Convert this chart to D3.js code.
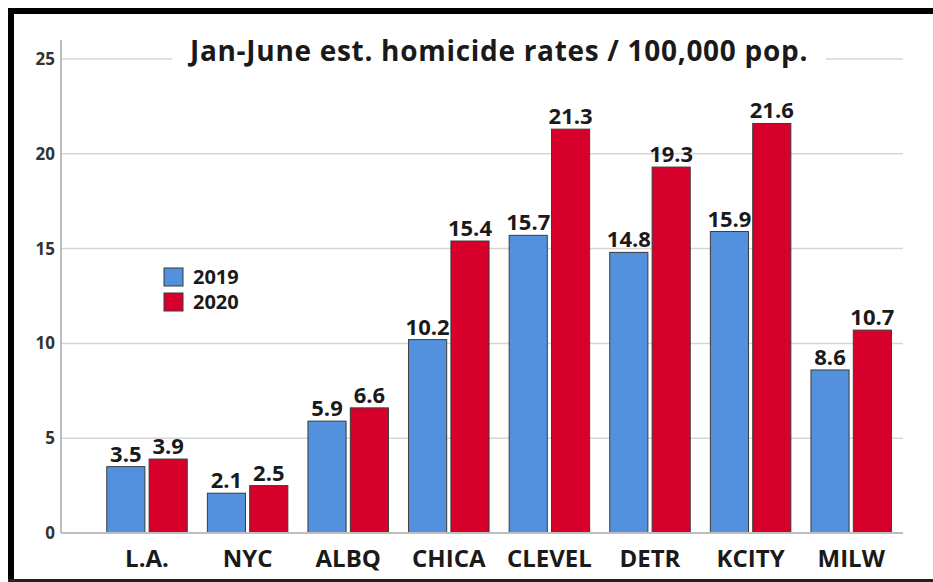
<!DOCTYPE html>
<style type="text/css">
body { margin: 0; background: #fff; }
text { font-family: "Open Sans", sans-serif; font-weight: 700; fill: #1a1a1a; }
</style>
<svg width="933" height="582"></svg>
<script src="https://d3js.org/d3.v7.min.js"></script>
<script>

var cities = ["L.A.", "NYC", "ALBQ", "CHICA", "CLEVEL", "DETR", "KCITY", "MILW"];
var years = ["2019", "2020"];
var rate2019 = [3.5, 2.1, 5.9, 10.2, 15.7, 14.8, 15.9, 8.6];
var rate2020 = [3.9, 2.5, 6.6, 15.4, 21.3, 19.3, 21.6, 10.7];
var yTicks = [0, 5, 10, 15, 20, 25];
var colors = ["#5391df", "#d7002b"];

var svg = d3.select("svg");

// frame of the screenshot
svg.append("rect").attr("x", 0).attr("y", 0).attr("width", 933).attr("height", 582).attr("fill", "#fff");
svg.append("rect").attr("x", 8).attr("y", 8).attr("width", 925).attr("height", 6).attr("fill", "#000");
svg.append("rect").attr("x", 8).attr("y", 8).attr("width", 6).attr("height", 574).attr("fill", "#000");
svg.append("rect").attr("x", 8).attr("y", 579).attr("width", 925).attr("height", 3).attr("fill", "#222");

var x0 = d3.scaleBand()
		.domain(cities)
		.range([96.7, 901.5])
		.paddingInner(0.2)
		.paddingOuter(0.1);

var x1 = d3.scaleBand()
		.domain(years)
		.range([0, x0.bandwidth()])
		.paddingInner(0.1);

var y = d3.scaleLinear()
		.domain([0, 25])
		.range([533, 59]);

// gridlines
svg.append("g")
		.attr("stroke", "#d6d6d6")
		.attr("stroke-width", 1.5)
	.selectAll("line")
	.data(yTicks)
	.enter().append("line")
		.attr("x1", 61)
		.attr("x2", 903)
		.attr("y1", function(d) { return y(d); })
		.attr("y2", function(d) { return y(d); });

// y axis line
svg.append("line")
		.attr("x1", 61).attr("x2", 61)
		.attr("y1", 40).attr("y2", y(0))
		.attr("stroke", "#bdbdbd")
		.attr("stroke-width", 2);

svg.append("g")
	.selectAll("text")
	.data(yTicks)
	.enter().append("text")
		.attr("x", 55)
		.attr("y", function(d) { return y(d); })
		.attr("dy", "0.35em")
		.attr("text-anchor", "end")
		.attr("font-size", 17)
		.style("fill", "#333")
		.text(function(d) { return d; });

// title with white box breaking the top gridline
svg.append("rect")
		.attr("x", 172).attr("y", 35)
		.attr("width", 654).attr("height", 40)
		.attr("fill", "#fff");

svg.append("text")
		.attr("x", 499)
		.attr("y", 61)
		.attr("text-anchor", "middle")
		.attr("font-size", 28)
		.attr("letter-spacing", 0.7)
		.text("Jan-June est. homicide rates / 100,000 pop.");

var rows = cities.map(function(c, i) {
	return { city: c, values: [rate2019[i], rate2020[i]] };
});

var group = svg.append("g")
	.selectAll("g")
	.data(rows)
	.enter().append("g")
		.attr("transform", function(d) { return "translate(" + x0(d.city) + ",0)"; });

var bar = group.selectAll("g")
	.data(function(d) { return d.values.map(function(v, j) { return { year: years[j], value: v, k: j }; }); })
	.enter().append("g");

bar.append("rect")
		.attr("x", function(d) { return x1(d.year); })
		.attr("y", function(d) { return y(d.value); })
		.attr("width", x1.bandwidth())
		.attr("height", function(d) { return y(0) - y(d.value); })
		.attr("fill", function(d) { return colors[d.k]; })
		.attr("stroke", "#3a3a3a")
		.attr("stroke-width", 1);

bar.append("text")
		.attr("x", function(d) { return x1(d.year) + x1.bandwidth() / 2; })
		.attr("y", function(d) { return y(d.value) - 5; })
		.attr("text-anchor", "middle")
		.attr("font-size", 22)
		.text(function(d) { return d.value.toFixed(1); });

// x axis baseline
svg.append("line")
		.attr("x1", 61).attr("x2", 903)
		.attr("y1", y(0)).attr("y2", y(0))
		.attr("stroke", "#bdbdbd")
		.attr("stroke-width", 2);

svg.append("g")
	.selectAll("text")
	.data(cities)
	.enter().append("text")
		.attr("x", function(d) { return x0(d) + x0.bandwidth() / 2; })
		.attr("y", 567)
		.attr("text-anchor", "middle")
		.attr("font-size", 24)
		.text(function(d) { return d; });

// legend
var legend = svg.append("g")
	.selectAll("g")
	.data(years)
	.enter().append("g")
		.attr("transform", function(d, i) { return "translate(164," + (268 + i * 25) + ")"; });

legend.append("rect")
		.attr("width", 19)
		.attr("height", 18)
		.attr("fill", function(d, i) { return colors[i]; })
		.attr("stroke", "#3a3a3a");

legend.append("text")
		.attr("x", 29)
		.attr("y", 9)
		.attr("dy", "0.35em")
		.attr("font-size", 20)
		.text(function(d) { return d; });

</script>
